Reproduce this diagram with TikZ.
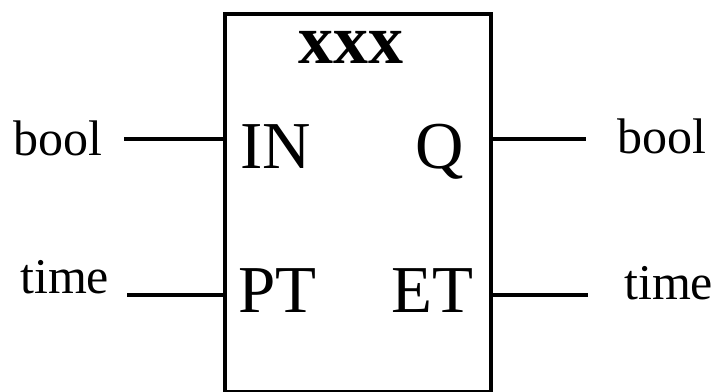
\documentclass[tikz,border=0pt]{standalone}
\usepackage{fontspec}
\setmainfont{Liberation Serif}
\begin{document}
\begin{tikzpicture}[x=1pt,y=-1pt,
  wire/.style={line width=4pt},
  boxline/.style={line width=4pt},
  sig/.style={inner sep=0pt,anchor=base west,font=\fontsize{50}{50}\selectfont},
  port/.style={inner sep=0pt,font=\fontsize{67}{67}\selectfont},
  title/.style={inner sep=0pt,anchor=base,font=\fontsize{70}{70}\selectfont\bfseries}]
\useasboundingbox (0,0) rectangle (714,391);
\fill[white] (0,0) rectangle (714,391);
\node[boxline,draw,minimum width=266pt,minimum height=378pt,anchor=north west,inner sep=0pt] (box) at (223,12) {};
\node[title] (name) at (351,63) {xxx};
\node[port,anchor=base west] (IN) at (240,168) {IN};
\node[port,anchor=base east] (Q) at (464,168) {Q};
\node[port,anchor=base west] (PT) at (238,312) {PT};
\node[port,anchor=base east] (ET) at (474,312) {ET};
\node[sig] (lbool) at (13,155) {bool};
\node[sig] (ltime) at (20,293) {time};
\node[sig] (rbool) at (617,153) {bool};
\node[sig] (rtime) at (624,299) {time};
\coordinate (a1) at (124,139);
\coordinate (a2) at (127,295);
\coordinate (b1) at (586,139);
\coordinate (b2) at (588,295);
\draw[wire] (a1) -- (a1 -| box.west);
\draw[wire] (a2) -- (a2 -| box.west);
\draw[wire] (b1 -| box.east) -- (b1);
\draw[wire] (b2 -| box.east) -- (b2);
\end{tikzpicture}
\end{document}
